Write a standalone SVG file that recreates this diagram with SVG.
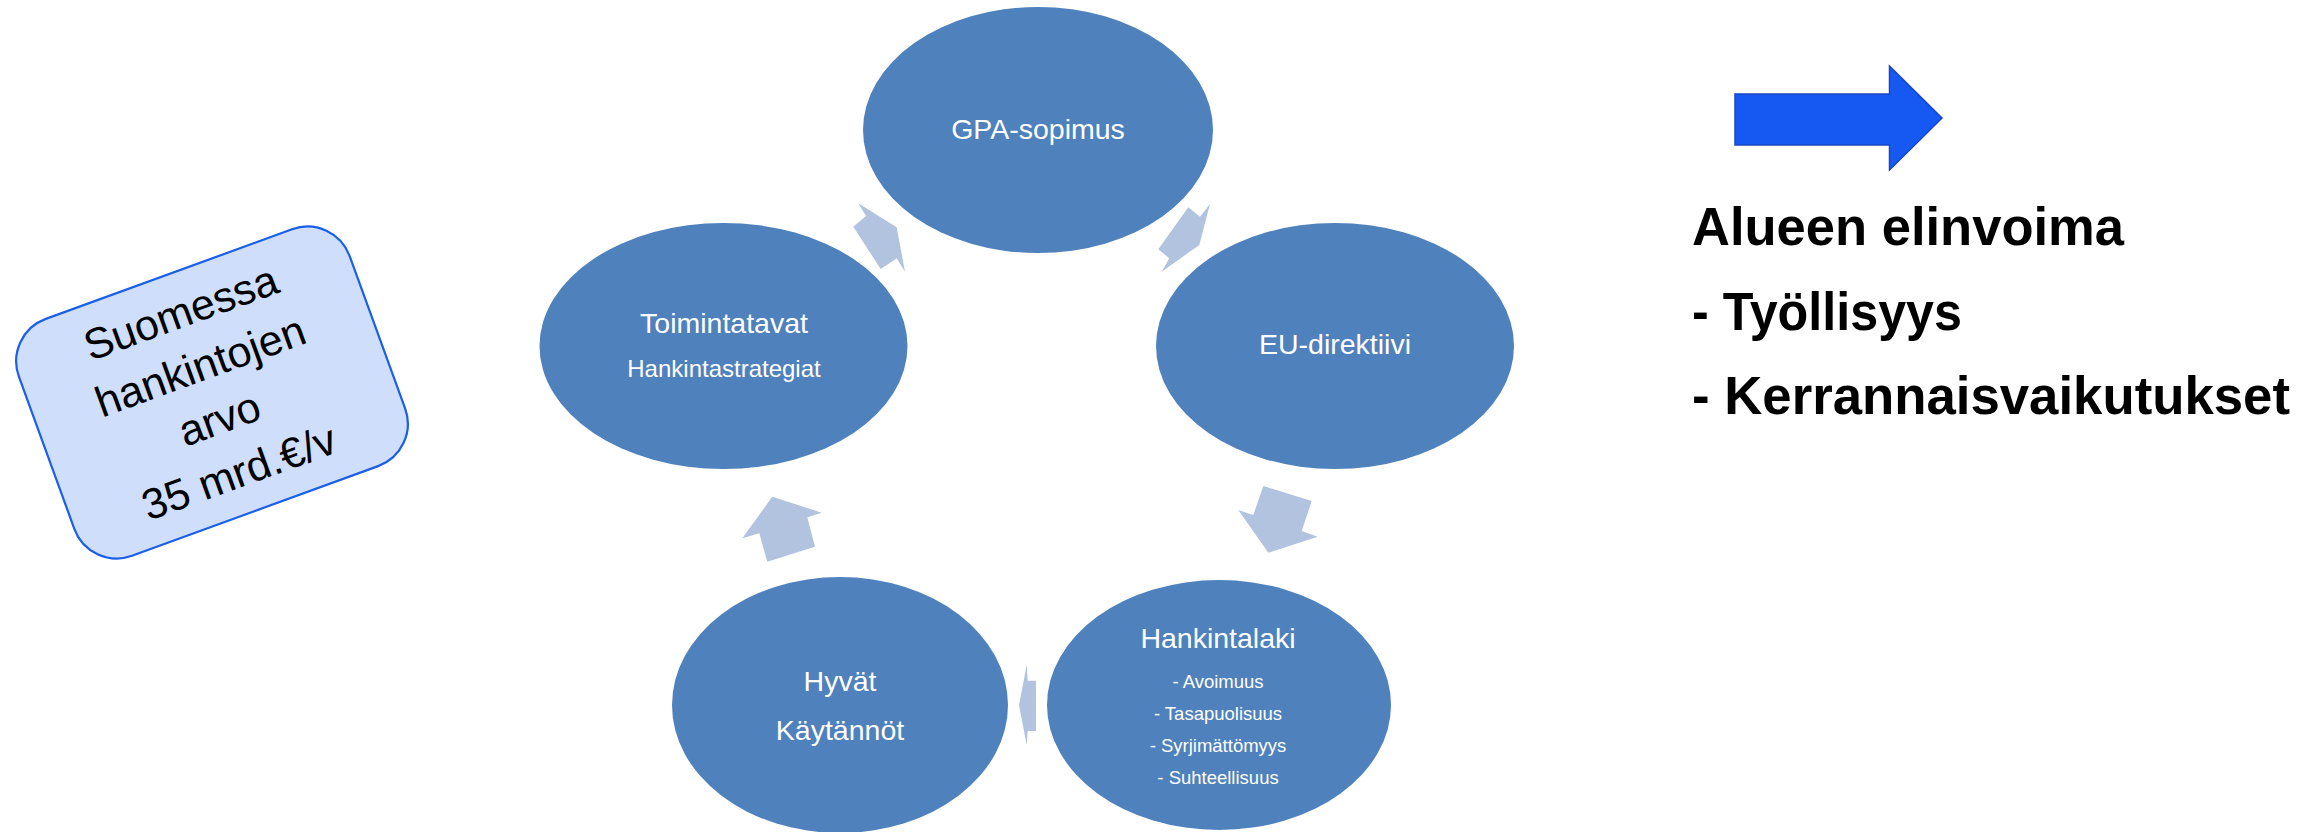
<svg xmlns="http://www.w3.org/2000/svg" width="2318" height="832" viewBox="0 0 2318 832">
<style>
.node{fill:#4f81bd;}
.lbl{font-family:"Liberation Sans",Arial,sans-serif;fill:#ffffff;text-anchor:middle;}
.big{font-size:28.5px;}
.mid{font-size:24px;}
.small{font-size:18.5px;}
.conn{fill:#b2c3df;}
.box{fill:#cfdefb;stroke:#1a5fe8;stroke-width:2.2;}
.boxtxt{font-family:"Liberation Sans",Arial,sans-serif;font-size:43px;fill:#000;text-anchor:middle;}
.res{font-family:"Liberation Sans",Arial,sans-serif;font-weight:bold;font-size:53px;fill:#000;}
</style>
<rect width="2318" height="832" fill="#ffffff"/>

<g id="connectors">
<polygon class="conn" points="853.3,226.7 866,216 858.3,203.3 896.7,227.3 905,271.7 896.7,258.3 880.7,269"/>
<polygon class="conn" points="1188.3,207.3 1200,216.7 1210,204 1199.3,245 1161.7,271.7 1169.3,258.3 1158.3,249.3"/>
<polygon class="conn" points="1263.3,486 1311.7,501 1301.7,531 1317.7,536.7 1268.3,552.7 1238.3,510 1253.3,515"/>
<polygon class="conn" points="1019,705 1026.7,665 1027.7,680.7 1036,680.7 1036,731 1027.7,731 1026.7,745"/>
<polygon class="conn" points="772.3,496.7 821.7,512.7 807.3,517.3 815,546.7 767.3,561.7 759.3,533.3 742.3,538.3"/>
</g>

<g id="node-gpa">
<ellipse class="node" cx="1038" cy="130" rx="175" ry="123"/>
<text class="lbl big" x="1038" y="139">GPA-sopimus</text>
</g>

<g id="node-eu">
<ellipse class="node" cx="1335" cy="346" rx="179" ry="123"/>
<text class="lbl big" x="1335" y="354">EU-direktiivi</text>
</g>

<g id="node-hankintalaki">
<ellipse class="node" cx="1219" cy="705" rx="172" ry="125"/>
<text class="lbl big" x="1218" y="648">Hankintalaki</text>
<text class="lbl small" x="1218" y="688">- Avoimuus</text>
<text class="lbl small" x="1218" y="720">- Tasapuolisuus</text>
<text class="lbl small" x="1218" y="752">- Syrjimättömyys</text>
<text class="lbl small" x="1218" y="784">- Suhteellisuus</text>
</g>

<g id="node-hyvat">
<ellipse class="node" cx="840" cy="705" rx="168" ry="128"/>
<text class="lbl big" x="840" y="691">Hyvät</text>
<text class="lbl big" x="840" y="740">Käytännöt</text>
</g>

<g id="node-toimintatavat">
<ellipse class="node" cx="723.5" cy="346" rx="184" ry="123"/>
<text class="lbl big" x="724" y="333">Toimintatavat</text>
<text class="lbl mid" x="724" y="377">Hankintastrategiat</text>
</g>

<g id="node-arvo" transform="translate(212,392.5) rotate(-20)">
<rect class="box" x="-176" y="-126" width="352" height="252" rx="45" ry="45"/>
<text class="boxtxt" x="-2" y="-71">Suomessa</text>
<text class="boxtxt" x="-2" y="-14">hankintojen</text>
<text class="boxtxt" x="-2" y="42">arvo</text>
<text class="boxtxt" x="-2" y="99">35 mrd.€/v</text>
</g>

<g id="node-arrow">
<polygon points="1735,94 1889.5,94 1889.5,66 1942,118 1889.5,170 1889.5,145 1735,145" fill="#1659f2" stroke="#1846c4" stroke-width="1.5"/>
</g>

<g id="node-result">
<text class="res" x="1692" y="245" textLength="432" lengthAdjust="spacingAndGlyphs">Alueen elinvoima</text>
<text class="res" x="1692" y="330" textLength="270" lengthAdjust="spacingAndGlyphs">- Työllisyys</text>
<text class="res" x="1692" y="414" textLength="598" lengthAdjust="spacingAndGlyphs">- Kerrannaisvaikutukset</text>
</g>
</svg>
